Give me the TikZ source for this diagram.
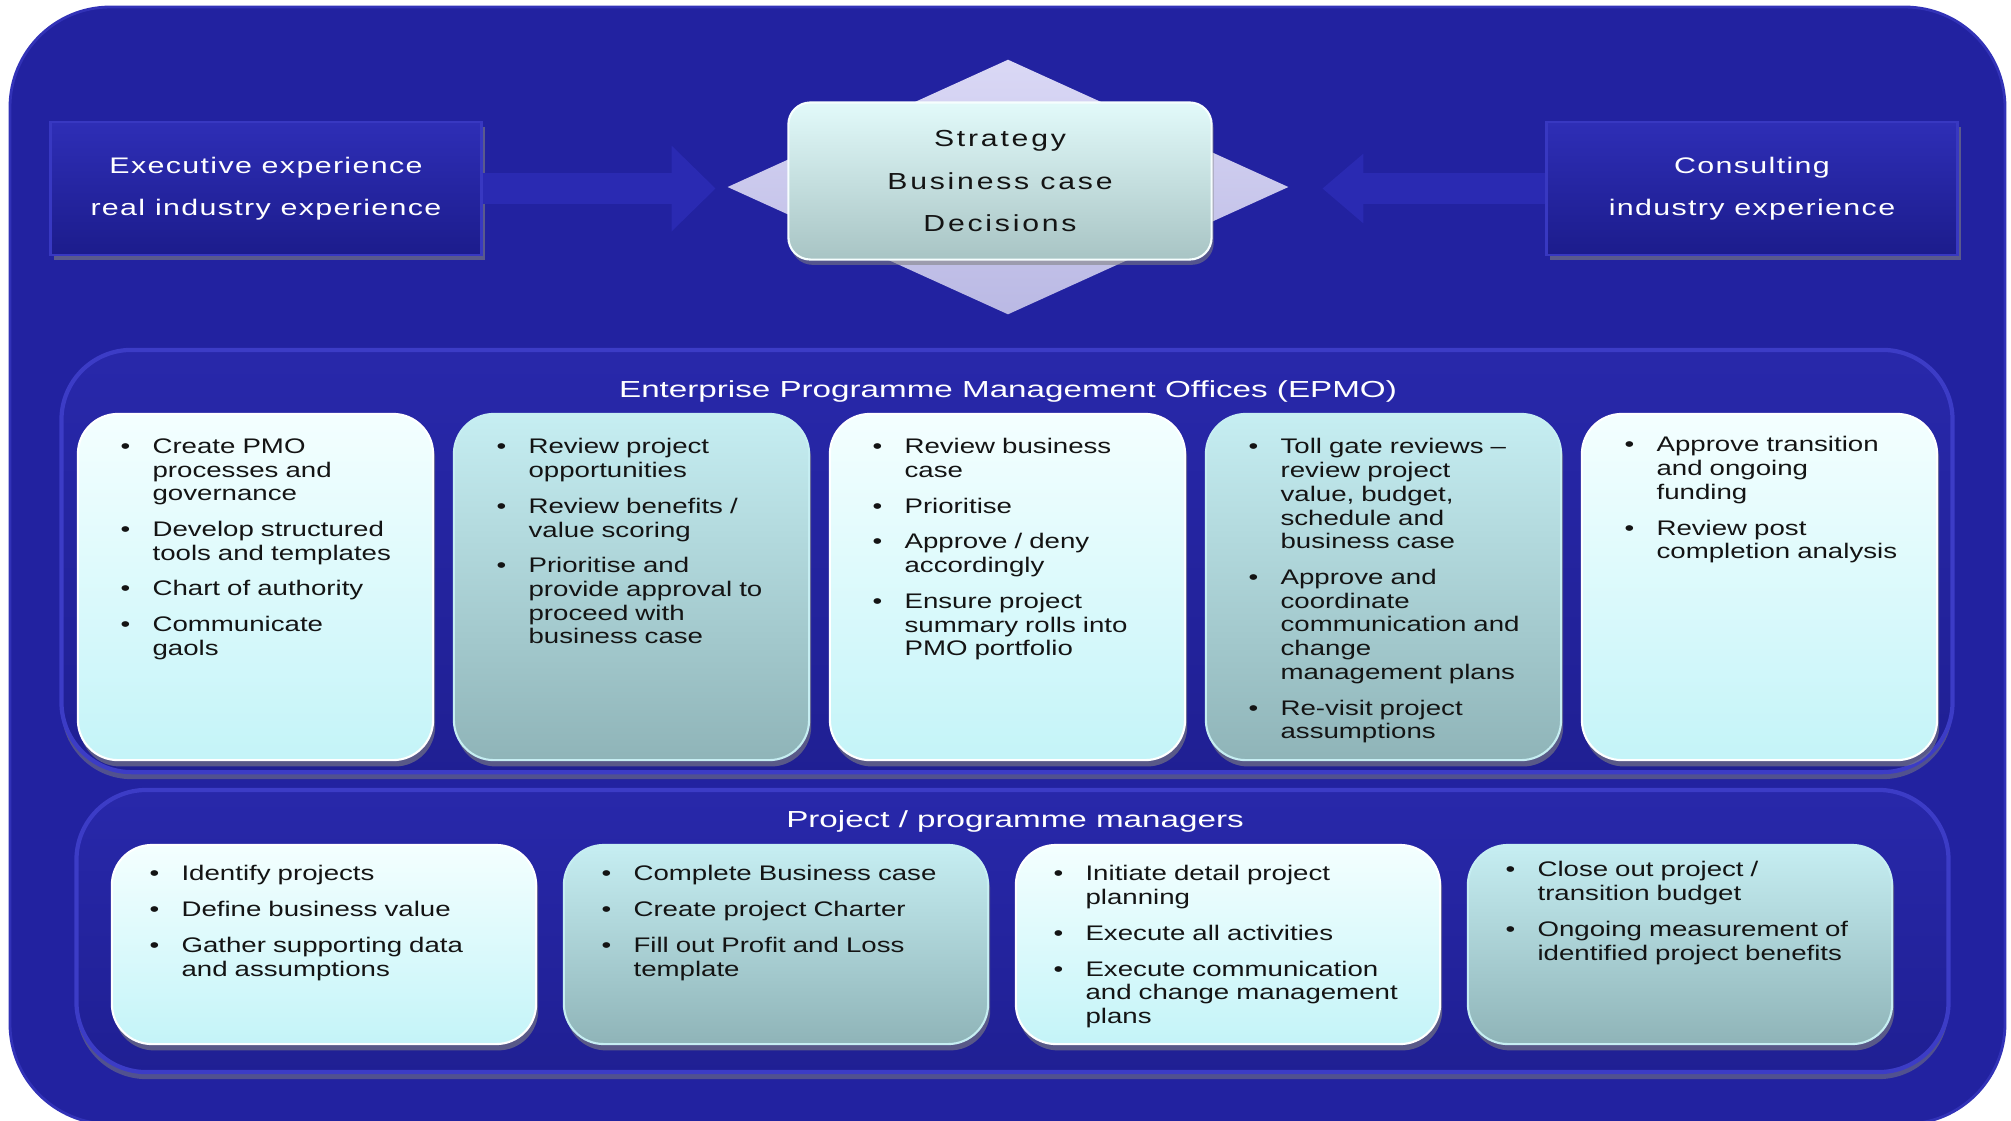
\documentclass[tikz,border=0pt]{standalone}
\usepackage{fontspec}
\setmainfont{Liberation Sans}
\newfontfamily\cardfont[FakeStretch=1.31]{Liberation Sans}
\newfontfamily\titlefont[FakeStretch=1.43]{Liberation Sans}
\newfontfamily\boxfont[FakeStretch=1.35,LetterSpace=6]{Liberation Sans}
\newfontfamily\hubfont[FakeStretch=1.3,LetterSpace=12]{Liberation Sans}
\usepackage{tikz}
\usetikzlibrary{shapes.geometric, arrows.meta, positioning, shadows}
\definecolor{bgblue}{RGB}{34,34,160}
\definecolor{rimblue}{RGB}{60,60,198}
\definecolor{panelblue}{RGB}{40,40,170}
\definecolor{boxtop}{RGB}{46,46,182}
\definecolor{boxbot}{RGB}{28,28,140}
\definecolor{arrowblue}{RGB}{42,42,178}
\definecolor{lavtop}{RGB}{218,216,245}
\definecolor{lavbot}{RGB}{186,185,228}
\definecolor{hubtop}{RGB}{226,250,250}
\definecolor{hubbot}{RGB}{168,196,196}
\definecolor{lighttop}{RGB}{244,255,255}
\definecolor{lightbot}{RGB}{196,244,248}
\definecolor{darktop}{RGB}{198,238,242}
\definecolor{darkbot}{RGB}{143,180,184}
\definecolor{inkgray}{RGB}{20,20,20}

% one bullet point of a card
\newcommand{\cardpt}[1]{\hangindent=0.32cm\hangafter=1\noindent
  \makebox[0.32cm][l]{\textbullet}#1\par\vspace{3.4pt}}

\tikzset{
  panel/.style={rounded corners=0.7cm, draw=rimblue, line width=1.2pt,
    top color=panelblue, bottom color=bgblue!92!black, inner sep=0,
    drop shadow={opacity=0.5, shadow xshift=0pt, shadow yshift=-2pt}},
  card/.style={rounded corners=0.4cm, inner sep=0,
    drop shadow={opacity=0.6, shadow xshift=0.6pt, shadow yshift=-1.8pt}},
  lightcard/.style={card, top color=lighttop, bottom color=lightbot,
    draw=white, line width=0.6pt},
  darkcard/.style={card, top color=darktop, bottom color=darkbot,
    draw=darktop, line width=0.6pt},
  epmocard/.style={minimum width=3.55cm, minimum height=3.46cm},
  pmcard/.style={minimum width=4.24cm, minimum height=1.99cm},
  cardtext/.style={font=\cardfont\fontsize{6}{6.75}\selectfont, text=inkgray,
    text width=4.2cm, align=left, inner sep=0},
  paneltitle/.style={text=white, font=\titlefont\fontsize{6.6}{8}\selectfont,
    inner sep=0},
  sidebox/.style={minimum height=1.33cm, top color=boxtop, bottom color=boxbot,
    draw=rimblue!70!boxtop, line width=0.8pt, text=white, align=center,
    font=\boxfont\fontsize{6.4}{12.1}\selectfont,
    drop shadow={opacity=0.6, shadow xshift=1pt, shadow yshift=-1.5pt}},
  hub/.style={rounded corners=0.22cm, minimum width=4.23cm, minimum height=1.57cm,
    top color=hubtop, bottom color=hubbot, draw=white!70!hubtop, line width=0.6pt,
    text=inkgray, align=center, font=\hubfont\fontsize{6.6}{12.2}\selectfont,
    drop shadow={opacity=0.55, shadow xshift=0.6pt, shadow yshift=-1.5pt}},
  dia/.style={diamond, minimum width=5.61cm, minimum height=2.55cm, inner sep=0,
    top color=lavtop, bottom color=lavbot},
  blockarrow/.style={line width=0.31cm, arrowblue}
}

\begin{document}
\begin{tikzpicture}[x=0.01cm, y=-0.01cm]
\useasboundingbox (0,0) rectangle (2011,1120);
\fill[bgblue, draw=rimblue!60!bgblue, line width=0.8pt, rounded corners=1cm]
  (10,7) rectangle (2005,1124);

% top row
\node[dia] (dia) at (1008,187) {};
\node[hub] (hub) at (1000,181) {Strategy\\Business case\\Decisions};
\node[sidebox, minimum width=4.3cm] (exec) at (266,188.5)
  {Executive experience\\real industry experience};
\node[sidebox, minimum width=4.1cm] (consult) at (1752,188.5)
  {Consulting\\industry experience};
\draw[blockarrow, -{Triangle[length=0.44cm, width=0.83cm]}, shorten >=0.11cm]
  (exec.east) -- (exec.east -| dia.west);
\draw[blockarrow, -{Triangle[length=0.41cm, width=0.67cm]}, shorten >=0.33cm]
  (consult.west) -- (consult.west -| dia.east);

% EPMO panel
\node[panel, minimum width=18.9cm, minimum height=4.22cm] (epmo) at (1007,561) {};
\node[paneltitle] (epmotitle) at (1008,391)
  {Enterprise Programme Management Offices (EPMO)};
\foreach \i in {1,3,5}
  \node[lightcard, epmocard] (e\i) at ({255.5+376*(\i-1)}, 587) {};
\foreach \i in {2,4}
  \node[darkcard, epmocard] (e\i) at ({255.5+376*(\i-1)}, 587) {};

\node[cardtext, below right=0.25cm and 0.43cm of e1.north west] (e1t) {%
  \cardpt{Create PMO\newline processes and\newline governance}
  \cardpt{Develop structured\newline tools and templates}
  \cardpt{Chart of authority}
  \cardpt{Communicate\newline gaols}};
\node[cardtext, below right=0.25cm and 0.43cm of e2.north west] (e2t) {%
  \cardpt{Review project\newline opportunities}
  \cardpt{Review benefits /\newline value scoring}
  \cardpt{Prioritise and\newline provide approval to\newline proceed with\newline business case}};
\node[cardtext, below right=0.25cm and 0.43cm of e3.north west] (e3t) {%
  \cardpt{Review business\newline case}
  \cardpt{Prioritise}
  \cardpt{Approve / deny\newline accordingly}
  \cardpt{Ensure project\newline summary rolls into\newline PMO portfolio}};
\node[cardtext, below right=0.25cm and 0.43cm of e4.north west] (e4t) {%
  \cardpt{Toll gate reviews –\newline review project\newline value, budget,\newline schedule and\newline business case}
  \cardpt{Approve and\newline coordinate\newline communication and\newline change\newline management plans}
  \cardpt{Re-visit project\newline assumptions}};
\node[cardtext, below right=0.23cm and 0.43cm of e5.north west] (e5t) {%
  \cardpt{Approve transition\newline and ongoing\newline funding}
  \cardpt{Review post\newline completion analysis}};

% project / programme managers panel
\node[panel, minimum width=18.71cm, minimum height=2.82cm] (pm) at (1012.5,931) {};
\node[paneltitle] (pmtitle) at (1015,821) {Project / programme managers};
\foreach \i in {1,3}
  \node[lightcard, pmcard] (p\i) at ({324+452*(\i-1)}, 944.5) {};
\foreach \i in {2,4}
  \node[darkcard, pmcard] (p\i) at ({324+452*(\i-1)}, 944.5) {};

\node[cardtext, below right=0.21cm and 0.38cm of p1.north west] (p1t) {%
  \cardpt{Identify projects}
  \cardpt{Define business value}
  \cardpt{Gather supporting data\newline and assumptions}};
\node[cardtext, below right=0.21cm and 0.38cm of p2.north west] (p2t) {%
  \cardpt{Complete Business case}
  \cardpt{Create project Charter}
  \cardpt{Fill out Profit and Loss\newline template}};
\node[cardtext, below right=0.21cm and 0.38cm of p3.north west] (p3t) {%
  \cardpt{Initiate detail project\newline planning}
  \cardpt{Execute all activities}
  \cardpt{Execute communication\newline and change management\newline plans}};
\node[cardtext, below right=0.17cm and 0.38cm of p4.north west] (p4t) {%
  \cardpt{Close out project /\newline transition budget}
  \cardpt{Ongoing measurement of\newline identified project benefits}};
\end{tikzpicture}
\end{document}
